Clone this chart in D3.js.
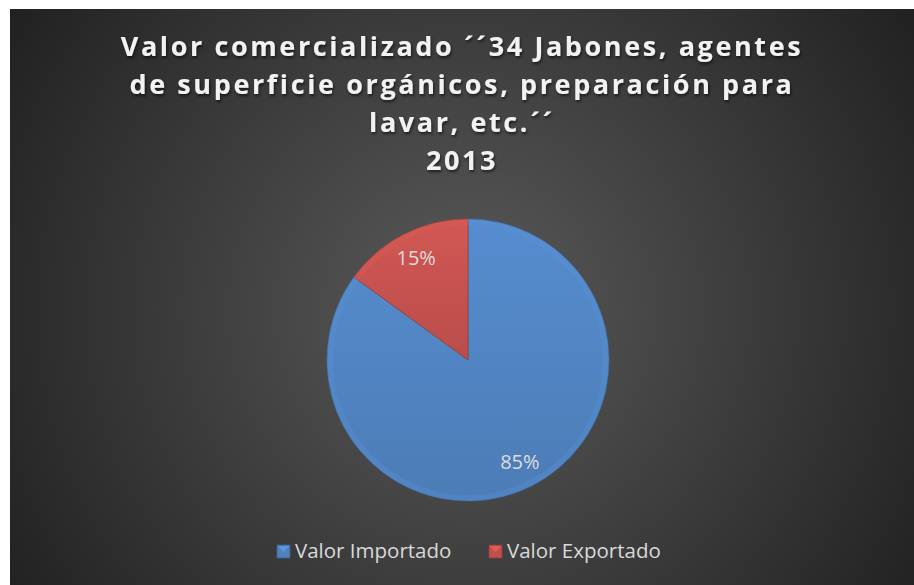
<!DOCTYPE html>
<html>
<head>
<meta charset="utf-8">
<script src="https://cdn.jsdelivr.net/npm/d3@7"></script>
<style>
  html, body { margin: 0; padding: 0; background: #ffffff; }
  svg { display: block; }
</style>
</head>
<body>
<script>
// chart values
var categories = ['Valor Importado', 'Valor Exportado'];
var values = [85, 15];
var titleLines = ['Valor comercializado \u00B4\u00B434 Jabones, agentes',
                  'de superficie org\u00E1nicos, preparaci\u00F3n para',
                  'lavar, etc.\u00B4\u00B4',
                  '2013'];
var colors = ['#4f81bd', '#c0504d'];

var width = 914;
var height = 585;

var svg = d3.select('body').append('svg')
    .attr('width', width)
    .attr('height', height);

var defs = svg.append('defs');

// dark background, lighter in the middle
var bg = defs.append('radialGradient')
    .attr('id', 'bg')
    .attr('gradientUnits', 'userSpaceOnUse')
    .attr('cx', 465).attr('cy', 310).attr('r', 560);
bg.append('stop').attr('offset', '0%').attr('stop-color', '#5a5a5a');
bg.append('stop').attr('offset', '100%').attr('stop-color', '#1f1f1f');

colors.forEach(function(c, i) {
  var g = defs.append('linearGradient')
      .attr('id', 'slice' + i)
      .attr('x1', 0).attr('y1', 0).attr('x2', 0).attr('y2', 1);
  g.append('stop').attr('offset', '0%').attr('stop-color', d3.color(c).brighter(0.25));
  g.append('stop').attr('offset', '100%').attr('stop-color', d3.color(c).darker(0.1));
});

var shadow = defs.append('filter').attr('id', 'tshadow')
    .attr('x', '-10%').attr('y', '-30%').attr('width', '120%').attr('height', '160%');
shadow.append('feDropShadow')
    .attr('dx', 1).attr('dy', 2).attr('stdDeviation', 1.5)
    .attr('flood-color', '#000').attr('flood-opacity', 0.6);

svg.append('rect')
    .attr('x', 10).attr('y', 9)
    .attr('width', width - 10).attr('height', height - 9)
    .attr('fill', 'url(#bg)');

// title
var title = svg.append('text')
    .attr('text-anchor', 'middle')
    .attr('font-family', '"Open Sans", sans-serif')
    .attr('font-weight', 'bold')
    .attr('font-size', 27)
    .attr('letter-spacing', 2.6)
    .attr('fill', '#f2f2f2')
    .attr('filter', 'url(#tshadow)');

title.selectAll('tspan').data(titleLines).enter().append('tspan')
    .attr('x', 462)
    .attr('y', function(d, i) { return 56 + i * 38; })
    .text(function(d) { return d; });

// pie
var cx = 468, cy = 360, radius = 141;

var pie = d3.pie().sort(null).value(function(d) { return d; });
var arc = d3.arc().innerRadius(0).outerRadius(radius);
var rim = d3.arc().innerRadius(radius - 6).outerRadius(radius);
var labelArc = d3.arc().innerRadius(radius * 0.81).outerRadius(radius * 0.81);

var arcs = pie(values);
var g = svg.append('g').attr('transform', 'translate(' + cx + ',' + cy + ')');

g.selectAll('path.slice').data(arcs).enter().append('path')
    .attr('class', 'slice')
    .attr('d', arc)
    .attr('fill', function(d, i) { return 'url(#slice' + i + ')'; })
    .attr('stroke', function(d, i) { return d3.color(colors[i]).darker(0.6); })
    .attr('stroke-width', 0.8);

// bevel highlight round the rim
g.selectAll('path.rim').data(arcs).enter().append('path')
    .attr('class', 'rim')
    .attr('d', rim)
    .attr('fill', function(d, i) { return d3.color(colors[i]).brighter(0.35); })
    .attr('opacity', 0.35);

g.selectAll('text.lbl').data(arcs).enter().append('text')
    .attr('class', 'lbl')
    .attr('transform', function(d) { return 'translate(' + labelArc.centroid(d) + ')'; })
    .attr('text-anchor', 'middle')
    .attr('dy', '0.35em')
    .attr('font-family', '"Open Sans", sans-serif')
    .attr('font-size', 20)
    .attr('fill', '#dcdcdc')
    .text(function(d) { return d.data + '%'; });

// legend
var legendX = [277, 489];
var legend = svg.selectAll('g.legend').data(categories).enter().append('g')
    .attr('class', 'legend')
    .attr('transform', function(d, i) { return 'translate(' + legendX[i] + ',551)'; });

legend.append('rect')
    .attr('x', 0).attr('y', -6)
    .attr('width', 13).attr('height', 13)
    .attr('fill', function(d, i) { return colors[i]; })
    .attr('stroke', function(d, i) { return d3.color(colors[i]).darker(0.8); })
    .attr('stroke-width', 0.8);

legend.append('path')
    .attr('d', 'M1,-5 L12,-5 L6.5,1 Z')
    .attr('fill', function(d, i) { return d3.color(colors[i]).brighter(0.6); })
    .attr('opacity', 0.7);

legend.append('text')
    .attr('x', 18)
    .attr('dy', '0.35em')
    .attr('font-family', '"Open Sans", sans-serif')
    .attr('font-size', 20.5)
    .attr('fill', '#d9d9d9')
    .text(function(d) { return d; });
</script>
</body>
</html>
